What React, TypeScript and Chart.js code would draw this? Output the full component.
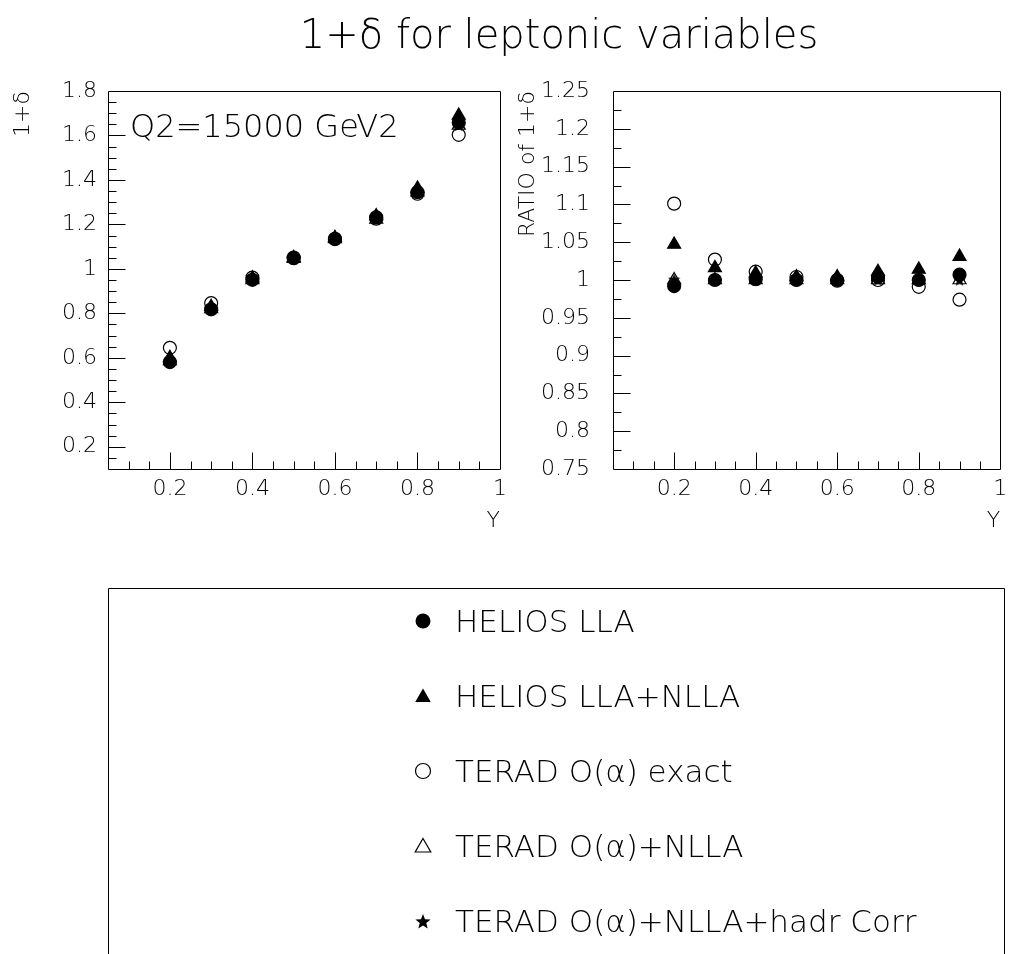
import React, { useEffect, useRef } from 'react';
import { Chart, registerables } from 'chart.js';
Chart.register(...registerables);

const FONT = '"DejaVu Sans", sans-serif';
const WEIGHT = '200';

// ---------- data ----------
const xValues = [0.2, 0.3, 0.4, 0.5, 0.6, 0.7, 0.8, 0.9];

// left panel: 1+delta
const heliosLLA = [0.581, 0.818, 0.951, 1.048, 1.135, 1.232, 1.345, 1.657];
const heliosNLLA = [0.6, 0.83, 0.958, 1.05, 1.14, 1.238, 1.362, 1.69];
const teradExact = [0.645, 0.846, 0.961, 1.051, 1.134, 1.226, 1.338, 1.603];
const teradNLLA = [0.586, 0.82, 0.95, 1.046, 1.135, 1.222, 1.345, 1.645];
const teradHadr = [0.586, 0.82, 0.95, 1.046, 1.135, 1.222, 1.345, 1.645];

// right panel: ratio of 1+delta
const ratioHeliosLLA = [0.992, 1.0, 1.001, 1.0, 1.0, 1.004, 1.0, 1.007];
const ratioHeliosNLLA = [1.047, 1.016, 1.009, 1.004, 1.004, 1.011, 1.014, 1.031];
const ratioTeradExact = [1.101, 1.027, 1.011, 1.004, 0.999, 1.0, 0.991, 0.974];
const ratioTeradNLLA = [1.0, 1.0, 1.0, 1.0, 1.0, 1.0, 1.0, 1.0];
const ratioTeradHadr = [1.001, 1.0, 1.0, 1.0, 1.0, 1.0, 1.0, 1.0];

const xTickValues = [0.2, 0.4, 0.6, 0.8, 1.0];
const leftYTickValues = [0.2, 0.4, 0.6, 0.8, 1.0, 1.2, 1.4, 1.6, 1.8];
const rightYTickValues = [0.75, 0.8, 0.85, 0.9, 0.95, 1.0, 1.05, 1.1, 1.15, 1.2, 1.25];

const seriesNames = [
  'HELIOS LLA',
  'HELIOS LLA+NLLA',
  'TERAD O(\u03B1) exact',
  'TERAD O(\u03B1)+NLLA',
  'TERAD O(\u03B1)+NLLA+hadr Corr',
];

const titleText = '1+\u03B4 for leptonic variables';
const q2Text = 'Q2=15000 GeV2';

// ---------- helpers ----------
function fmt(v: number) {
  return String(parseFloat(Number(v).toFixed(2)));
}

function makeStar(r: number) {
  const size = Math.ceil(r * 2) + 2;
  const c = document.createElement('canvas');
  c.width = size;
  c.height = size;
  const ctx = c.getContext('2d')!;
  ctx.fillStyle = '#000';
  ctx.beginPath();
  for (let i = 0; i < 10; i++) {
    const rr = i % 2 === 0 ? r : r * 0.42;
    const a = -Math.PI / 2 + (i * Math.PI) / 5;
    const px = size / 2 + rr * Math.cos(a);
    const py = size / 2 + 0.5 + rr * Math.sin(a);
    if (i === 0) ctx.moveTo(px, py);
    else ctx.lineTo(px, py);
  }
  ctx.closePath();
  ctx.fill();
  return c;
}

const frameTicks = {
  id: 'frameTicks',
  beforeDatasetsDraw(chart: any, _args: any, opts: any) {
    const { ctx, chartArea: a, scales } = chart;
    const xs = scales.x;
    const ys = scales.y;
    ctx.save();
    ctx.strokeStyle = '#000';
    ctx.lineWidth = 1;
    const L = Math.round(a.left) + 0.5;
    const T = Math.round(a.top) + 0.5;
    const R = Math.round(a.right) + 0.5;
    const B = Math.round(a.bottom) + 0.5;
    ctx.beginPath();
    ctx.rect(L, T, R - L, B - T);
    const isMajor = (v: number, m: number) => Math.abs(v / m - Math.round(v / m)) < 1e-6;
    const nx = Math.round((opts.xMax - opts.xMin) / opts.xMinor);
    for (let i = 1; i < nx; i++) {
      const v = opts.xMin + i * opts.xMinor;
      const len = isMajor(v, opts.xMajor) ? 17 : 8;
      const px = Math.round(xs.getPixelForValue(v)) + 0.5;
      ctx.moveTo(px, B);
      ctx.lineTo(px, B - len);
    }
    const ny = Math.round((opts.yMax - opts.yMin) / opts.yMinor);
    for (let i = 1; i < ny; i++) {
      const v = opts.yMin + i * opts.yMinor;
      const len = isMajor(v, opts.yMajor) ? 17 : 8;
      const py = Math.round(ys.getPixelForValue(v)) + 0.5;
      ctx.moveTo(L, py);
      ctx.lineTo(L + len, py);
    }
    ctx.stroke();
    ctx.restore();
  },
};

type PanelProps = {
  left: number;
  top: number;
  width: number;
  height: number;
  yMin: number;
  yMax: number;
  yTicks: number[];
  yMinor: number;
  yMajor: number;
  yTitle: string;
  yAxisWidth: number;
  yLabelPad: number;
  yTitlePad: number;
  rightPad: number;
  series: number[][];
};

function Panel(p: PanelProps) {
  const ref = useRef<HTMLCanvasElement>(null);
  useEffect(() => {
    const star = makeStar(6.5);
    const styles: any[] = [
      { pointStyle: 'circle', radius: 6.5, bg: '#000' },
      { pointStyle: 'triangle', radius: 7.5, bg: '#000' },
      { pointStyle: 'circle', radius: 6.5, bg: 'rgba(0,0,0,0)' },
      { pointStyle: 'triangle', radius: 7.5, bg: 'rgba(0,0,0,0)' },
      { pointStyle: star, radius: 6.5, bg: '#000' },
    ];
    const tickFont = { family: FONT, size: 22, weight: WEIGHT };
    const datasets = p.series.map((vals, i) => ({
      label: seriesNames[i],
      data: xValues.map((x, j) => ({ x, y: vals[j] })),
      pointStyle: styles[i].pointStyle,
      pointRadius: styles[i].radius,
      pointHoverRadius: styles[i].radius,
      backgroundColor: styles[i].bg,
      borderColor: '#000',
      borderWidth: 1.2,
      showLine: false,
    }));
    const chart = new Chart(ref.current!, {
      type: 'scatter',
      data: { datasets },
      plugins: [frameTicks as any],
      options: {
        responsive: false,
        animation: false,
        events: [],
        layout: { padding: { left: 0, top: 31, right: p.rightPad, bottom: 0 } },
        plugins: {
          legend: { display: false },
          tooltip: { enabled: false },
          frameTicks: {
            xMin: 0.05,
            xMax: 1.0,
            xMinor: 0.05,
            xMajor: 0.2,
            yMin: p.yMin,
            yMax: p.yMax,
            yMinor: p.yMinor,
            yMajor: p.yMajor,
          },
        } as any,
        scales: {
          x: {
            type: 'linear',
            min: 0.05,
            max: 1.0,
            grid: { display: false, drawTicks: false },
            border: { display: false },
            afterBuildTicks: (s: any) => {
              s.ticks = xTickValues.map((v) => ({ value: v }));
            },
            afterFit: (s: any) => {
              s.height = 71;
              s.paddingLeft = 0;
              s.paddingRight = 0;
            },
            ticks: {
              font: tickFont,
              color: '#000',
              padding: 7,
              maxRotation: 0,
              autoSkip: false,
              callback: (v: any) => fmt(v),
            },
            title: {
              display: true,
              text: 'Y',
              align: 'end',
              color: '#000',
              font: tickFont,
              padding: { top: 0, bottom: 6 },
            },
          },
          y: {
            type: 'linear',
            min: p.yMin,
            max: p.yMax,
            grid: { display: false, drawTicks: false },
            border: { display: false },
            afterBuildTicks: (s: any) => {
              s.ticks = p.yTicks.map((v) => ({ value: v }));
            },
            afterFit: (s: any) => {
              s.width = p.yAxisWidth;
              s.paddingTop = 0;
              s.paddingBottom = 0;
            },
            ticks: {
              font: tickFont,
              color: '#000',
              padding: p.yLabelPad,
              autoSkip: false,
              callback: (v: any) => fmt(v),
            },
            title: {
              display: true,
              text: p.yTitle,
              align: 'end',
              color: '#000',
              font: tickFont,
              padding: { top: p.yTitlePad, bottom: 0 },
            },
          },
        },
      } as any,
    });
    return () => chart.destroy();
  }, []);
  return (
    <div style={{ position: 'absolute', left: p.left, top: p.top, width: p.width, height: p.height }}>
      <canvas ref={ref} width={p.width} height={p.height} style={{ width: p.width, height: p.height, display: 'block' }} />
    </div>
  );
}

function LegendMarker({ i, cx, cy }: { i: number; cx: number; cy: number }) {
  const r = 7.5;
  if (i === 0) return <circle cx={cx} cy={cy} r={r} fill="#000" />;
  if (i === 2) return <circle cx={cx} cy={cy} r={r} fill="none" stroke="#000" strokeWidth={1.2} />;
  if (i === 1 || i === 3) {
    const tr = 9;
    const pts = [0, 1, 2]
      .map((k) => {
        const a = (k * 2 * Math.PI) / 3;
        return `${cx + Math.sin(a) * tr},${cy + 1.5 - Math.cos(a) * tr}`;
      })
      .join(' ');
    return i === 1 ? (
      <polygon points={pts} fill="#000" />
    ) : (
      <polygon points={pts} fill="none" stroke="#000" strokeWidth={1.2} />
    );
  }
  const pts: string[] = [];
  for (let k = 0; k < 10; k++) {
    const rr = k % 2 === 0 ? 8 : 3.4;
    const a = -Math.PI / 2 + (k * Math.PI) / 5;
    pts.push(`${cx + rr * Math.cos(a)},${cy + 1 + rr * Math.sin(a)}`);
  }
  return <polygon points={pts.join(' ')} fill="#000" />;
}

export default function App() {
  const legendY = [621, 696, 771, 846, 921];
  return (
    <div style={{ position: 'absolute', left: 0, top: 0, width: 1009, height: 954, overflow: 'hidden', background: '#fff' }}>
      <Panel
        left={0}
        top={60}
        width={510}
        height={480}
        yMin={0.1}
        yMax={1.8}
        yTicks={leftYTickValues}
        yMinor={0.05}
        yMajor={0.2}
        yTitle={'1+\u03B4'}
        yAxisWidth={108}
        yLabelPad={11}
        yTitlePad={10}
        rightPad={10}
        series={[heliosLLA, heliosNLLA, teradExact, teradNLLA, teradHadr]}
      />
      <Panel
        left={510}
        top={60}
        width={499}
        height={480}
        yMin={0.75}
        yMax={1.25}
        yTicks={rightYTickValues}
        yMinor={0.025}
        yMajor={0.05}
        yTitle={'RATIO of 1+\u03B4'}
        yAxisWidth={103}
        yLabelPad={23}
        yTitlePad={5}
        rightPad={4}
        series={[ratioHeliosLLA, ratioHeliosNLLA, ratioTeradExact, ratioTeradNLLA, ratioTeradHadr]}
      />
      <svg
        width={1009}
        height={954}
        style={{ position: 'absolute', left: 0, top: 0, pointerEvents: 'none' }}
        fontFamily={FONT}
        fontWeight={WEIGHT}
      >
        <text x={559} y={48} fontSize={40} textAnchor="middle" fill="#000">
          {titleText}
        </text>
        <text x={130} y={137} fontSize={32} fill="#000">
          {q2Text}
        </text>
        <path d="M108.5 954 V588.5 H1004.5 V954" fill="none" stroke="#000" strokeWidth={1} />
        {seriesNames.map((name, i) => (
          <g key={name}>
            <LegendMarker i={i} cx={423} cy={legendY[i]} />
            <text x={455} y={legendY[i] + 11} fontSize={31} fill="#000">
              {name}
            </text>
          </g>
        ))}
      </svg>
    </div>
  );
}
